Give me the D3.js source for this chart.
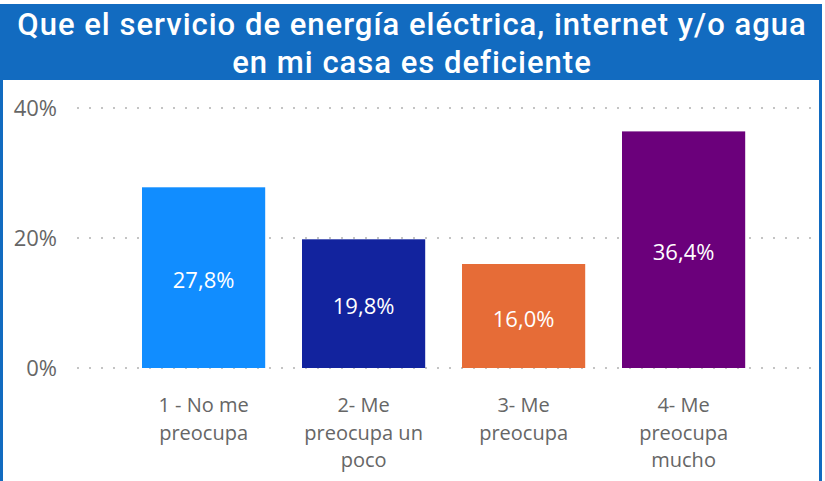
<!DOCTYPE html>
<html>
<head>
<meta charset="utf-8">
<script src="https://cdn.jsdelivr.net/npm/d3@7"></script>
<style>
  html, body { margin: 0; padding: 0; background: #fff; }
  svg { display: block; }
</style>
</head>
<body>
<div id="chart"></div>
<script>
const titleLines = [
  "Que el servicio de energía eléctrica, internet y/o agua",
  "en mi casa es deficiente"
];
const categories = ["1 - No me preocupa", "2- Me preocupa un poco", "3- Me preocupa", "4- Me preocupa mucho"];
const categoryLines = [
  ["1 - No me", "preocupa"],
  ["2- Me", "preocupa un", "poco"],
  ["3- Me", "preocupa"],
  ["4- Me", "preocupa", "mucho"]
];
const values = [27.8, 19.8, 16.0, 36.4];
const yTicks = [0, 20, 40];

const barColors = ["#118DFF", "#12239E", "#E66C37", "#6B007B"];
const frameColor = "#126BC0";
const textGray = "#666666";
const bodyFont = "'Segoe UI', 'Open Sans', 'Noto Sans', sans-serif";

const width = 825;
const height = 481;

const svg = d3.select("#chart")
  .append("svg")
  .attr("width", width)
  .attr("height", height)
  .attr("viewBox", [0, 0, width, height]);

// frame: title band + thin side borders
svg.append("rect")
  .attr("x", 0).attr("y", 4)
  .attr("width", 822).attr("height", 76)
  .attr("fill", frameColor);
svg.append("rect")
  .attr("x", 0).attr("y", 4)
  .attr("width", 3).attr("height", height - 4)
  .attr("fill", frameColor);
svg.append("rect")
  .attr("x", 819).attr("y", 4)
  .attr("width", 3).attr("height", height - 4)
  .attr("fill", frameColor);

svg.append("g")
  .selectAll("text")
  .data(titleLines)
  .join("text")
  .attr("x", 412)
  .attr("y", (d, i) => 35 + i * 38)
  .attr("text-anchor", "middle")
  .attr("fill", "#fff")
  .attr("font-family", "Roboto, 'Noto Sans', sans-serif")
  .attr("font-weight", 500)
  .attr("font-size", 31)
  .attr("letter-spacing", 1)
  .text(d => d);

const x = d3.scaleBand()
  .domain(categories)
  .range([123.6, 763.6])
  .paddingInner(0.23)
  .paddingOuter(0.115);

const y = d3.scaleLinear()
  .domain([0, 40])
  .range([368, 108]);

// dotted gridlines
svg.append("g")
  .selectAll("line")
  .data(yTicks)
  .join("line")
  .attr("x1", 77)
  .attr("x2", 813)
  .attr("y1", d => y(d))
  .attr("y2", d => y(d))
  .attr("stroke", "#c4c4c4")
  .attr("stroke-width", 2)
  .attr("stroke-dasharray", "2,10");

// y axis labels
svg.append("g")
  .selectAll("text")
  .data(yTicks)
  .join("text")
  .attr("x", 57)
  .attr("y", d => y(d))
  .attr("dy", "0.35em")
  .attr("text-anchor", "end")
  .attr("fill", textGray)
  .attr("font-family", bodyFont)
  .attr("font-size", 22)
  .text(d => d + "%");

// bars
svg.append("g")
  .selectAll("rect")
  .data(values)
  .join("rect")
  .attr("x", (d, i) => x(categories[i]))
  .attr("y", d => y(d))
  .attr("width", x.bandwidth())
  .attr("height", d => y(0) - y(d))
  .attr("fill", (d, i) => barColors[i]);

// value labels inside bars
const fmt = d => d.toFixed(1).replace(".", ",") + "%";
svg.append("g")
  .selectAll("text")
  .data(values)
  .join("text")
  .attr("x", (d, i) => x(categories[i]) + x.bandwidth() / 2)
  .attr("y", d => (y(d) + y(0)) / 2 + 3)
  .attr("dy", "0.35em")
  .attr("text-anchor", "middle")
  .attr("fill", "#fff")
  .attr("font-family", bodyFont)
  .attr("font-size", 22)
  .text(fmt);

// category labels
const cat = svg.append("g")
  .selectAll("text")
  .data(categoryLines)
  .join("text")
  .attr("text-anchor", "middle")
  .attr("fill", textGray)
  .attr("font-family", bodyFont)
  .attr("font-size", 20);

cat.selectAll("tspan")
  .data((d, i) => d.map(line => ({ line, i })))
  .join("tspan")
  .attr("x", d => x(categories[d.i]) + x.bandwidth() / 2)
  .attr("y", (d, j) => 412 + j * 27.5)
  .text(d => d.line);
</script>
</body>
</html>
